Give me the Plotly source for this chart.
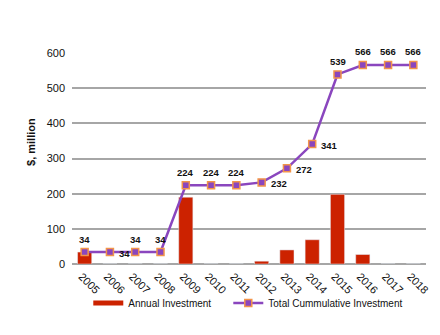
import plotly.graph_objects as go

years = list(range(2005, 2019))
annual = [34, 0, 0, 0, 190, 0, 0, 8, 40, 69, 198, 27, 0, 0]
cumulative = [34, 34, 34, 34, 224, 224, 224, 232, 272, 341, 539, 566, 566, 566]
label_side = ["top", "right", "top", "top", "top", "top", "top", "right",
              "right", "right", "top", "top", "top", "top"]

BAR_COLOR = "#CC2200"
LINE_COLOR = "#8A46BE"

fig = go.Figure()
fig.add_trace(go.Bar(
    x=years, y=annual, name="Annual Investment",
    marker=dict(color=BAR_COLOR), width=0.56, showlegend=False,
))
# legend entry for the bars drawn as a thick swatch, like the original
fig.add_trace(go.Scatter(
    x=[None], y=[None], name="Annual Investment", mode="lines",
    line=dict(color=BAR_COLOR, width=5), legend="legend",
))
fig.add_trace(go.Scatter(
    x=years, y=cumulative, name="Total Cummulative Investment",
    mode="lines+markers",
    line=dict(color=LINE_COLOR, width=2.5),
    marker=dict(symbol="square", size=7, color=LINE_COLOR,
                line=dict(color="#F2944A", width=1.5)),
    cliponaxis=False, legend="legend2",
))

lab_font = dict(family="Liberation Sans", size=9.5, color="#111111")
for yr, v, side in zip(years, cumulative, label_side):
    if side == "top":
        fig.add_annotation(x=yr, y=v, xref="x", yref="y", text="<b>%d</b>" % v,
                           showarrow=False, xanchor="center", yanchor="middle",
                           yshift=13, font=lab_font)
    else:
        fig.add_annotation(x=yr, y=v, xref="x", yref="y", text="<b>%d</b>" % v,
                           showarrow=False, xanchor="left", yanchor="middle",
                           xshift=7, yshift=-1, font=lab_font)

fig.add_annotation(x=-0.116, y=0.578, xref="paper", yref="paper",
                   text="<b>$, million</b>", textangle=-90, showarrow=False,
                   xanchor="center", yanchor="middle",
                   font=dict(family="Liberation Sans", size=11, color="#111111"))

legend_common = dict(orientation="h", xanchor="left", y=-0.185, yanchor="middle",
                     font=dict(size=10), bgcolor="rgba(0,0,0,0)")

fig.update_layout(
    width=440, height=335,
    margin=dict(l=72, r=14, t=53, b=71),
    plot_bgcolor="white", paper_bgcolor="white",
    font=dict(family="Liberation Sans", size=11, color="#111111"),
    showlegend=True,
    legend=dict(x=0.046, **legend_common),
    legend2=dict(x=0.4415, **legend_common),
    xaxis=dict(type="linear", range=[2004.5, 2018.5], tickmode="array",
               tickvals=years, ticktext=[str(y) for y in years],
               tickangle=45, showgrid=False, ticks="", tickfont=dict(size=11),
               automargin=False, ticklabelshift=-3, ticklabelstandoff=3),
    yaxis=dict(range=[0, 600], dtick=100, showgrid=True, gridcolor="#A6A6A6",
               gridwidth=2, zeroline=True, zerolinecolor="#A6A6A6", zerolinewidth=2,
               ticks="", tickfont=dict(size=11), automargin=False, ticklabelstandoff=6),
)

fig.write_html("out.html")
